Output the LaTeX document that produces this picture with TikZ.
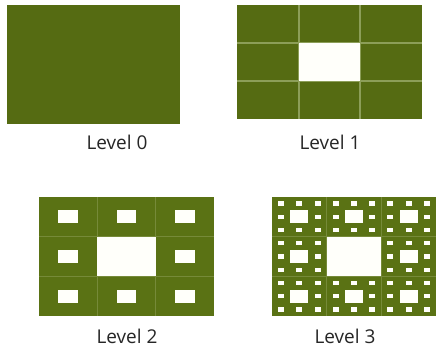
\documentclass[tikz,border=0pt]{standalone}
\usepackage{fontspec}
\setmainfont{Open Sans}
\definecolor{carpetgreen}{HTML}{556B12}
\definecolor{carpetgreenb}{HTML}{5A7214}
\definecolor{gridline}{HTML}{8C9E58}
\definecolor{holewhite}{HTML}{FFFFFA}
\newcommand{\sierp}[6]{%
  \fill[#6] (#1,#2) rectangle ++(#3,#4);
}
\newcommand{\sierpholes}[5]{%
  \foreach \k in {1,...,#5}{
    \pgfmathtruncatemacro{\mm}{3^(\k-1)-1}
    \pgfmathsetmacro{\ddx}{#3/3^\k}
    \pgfmathsetmacro{\ddy}{#4/3^\k}
    \foreach \a in {0,...,\mm}{
      \foreach \b in {0,...,\mm}{
        \fill[holewhite] ({#1+(3*\a+1)*\ddx},{#2+(3*\b+1)*\ddy}) rectangle ++(\ddx,\ddy);
      }
    }
  }%
}
\newcommand{\thirdlines}[5]{% x0,y0,w,h,style
  \draw[#5] ({#1+#3/3},#2) -- ++(0,#4);
  \draw[#5] ({#1+2*#3/3},#2) -- ++(0,#4);
  \draw[#5] (#1,{#2+#4/3}) -- ++(#3,0);
  \draw[#5] (#1,{#2+2*#4/3}) -- ++(#3,0);
}
\tikzset{
  lbl/.style={anchor=base, font=\fontsize{19}{22}\selectfont, text=black!85},
  gridA/.style={gridline, line width=1.8pt},
  gridB/.style={gridline!55!carpetgreenb, line width=1.2pt},
}
\begin{document}
\begin{tikzpicture}[x=1pt,y=-1pt]
\useasboundingbox[fill=white] (0,0) rectangle (440,348);
% Level 0
\sierp{7}{5}{173}{119}{0}{carpetgreen}
% Level 1
\sierp{237}{5}{185}{114}{1}{carpetgreen}
\thirdlines{237}{5}{185}{114}{gridA}
\sierpholes{237}{5}{185}{114}{1}
% Level 2
\sierp{39}{197}{175}{119}{2}{carpetgreenb}
\thirdlines{39}{197}{175}{119}{gridB}
\sierpholes{39}{197}{175}{119}{2}
% Level 3
\sierp{272}{197}{164}{119}{3}{carpetgreenb}
\thirdlines{272}{197}{164}{119}{gridB}
\sierpholes{272}{197}{164}{119}{3}
% labels
\node[lbl] (l0) at (117,149) {Level 0};
\node[lbl] (l1) at (330,149) {Level 1};
\node[lbl] (l2) at (127,343) {Level 2};
\node[lbl] (l3) at (345,343) {Level 3};
\end{tikzpicture}
\end{document}
